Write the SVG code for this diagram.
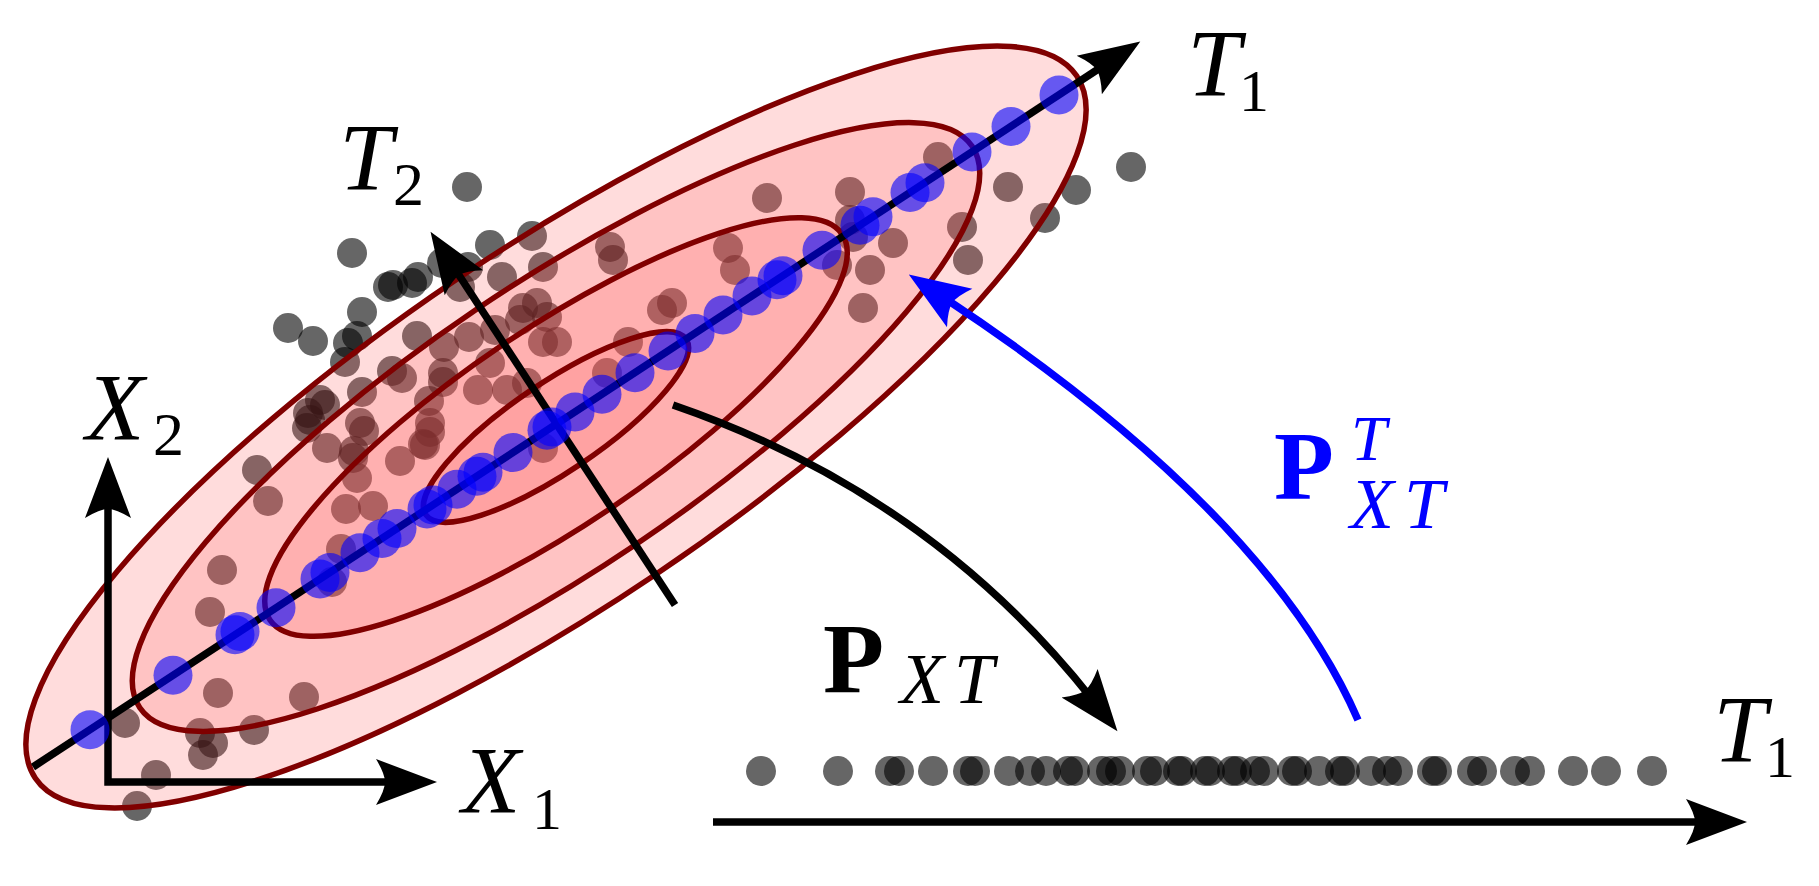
<svg xmlns="http://www.w3.org/2000/svg" width="1819" height="886" viewBox="0 0 1819 886">
<style>
.d{fill:#000;fill-opacity:0.6}
.b{fill:#0000ff;fill-opacity:0.6}
.ell{stroke:#800000;stroke-width:5.5;fill:#ff5c5c}
.ln{fill:none;stroke:#000;stroke-width:7.5}
.it{font-family:"Liberation Serif","Times New Roman",serif;font-style:italic;font-weight:normal}
.rm{font-family:"Liberation Serif","Times New Roman",serif;font-weight:normal}
.bf{font-family:"Liberation Serif","Times New Roman",serif;font-weight:bold}
</style>
<defs>
<marker id="ah" viewBox="0 -26 64 52" markerWidth="64" markerHeight="52" refX="20" refY="0" orient="auto-start-reverse" markerUnits="userSpaceOnUse">
<path d="M61,0 L0,-23 Q9,-8 9,0 Q9,8 0,23 Z" fill="#000"/>
</marker>
<marker id="ahb" viewBox="0 -26 64 52" markerWidth="64" markerHeight="52" refX="20" refY="0" orient="auto" markerUnits="userSpaceOnUse">
<path d="M61,0 L0,-23 Q9,-8 9,0 Q9,8 0,23 Z" fill="#0000ff"/>
</marker>
</defs>
<rect width="1819" height="886" fill="#fff"/>
<g id="data-points">
<circle class="d" cx="352" cy="253" r="15"/><circle class="d" cx="467" cy="187" r="15"/><circle class="d" cx="490" cy="245" r="15"/><circle class="d" cx="532" cy="236" r="15"/><circle class="d" cx="393" cy="285" r="15"/><circle class="d" cx="412" cy="283" r="15"/><circle class="d" cx="418" cy="277" r="15"/><circle class="d" cx="442" cy="263" r="15"/><circle class="d" cx="362" cy="312" r="15"/><circle class="d" cx="288" cy="328" r="15"/><circle class="d" cx="313" cy="341" r="15"/><circle class="d" cx="357" cy="336" r="15"/><circle class="d" cx="348" cy="343" r="15"/><circle class="d" cx="345" cy="362" r="15"/><circle class="d" cx="388" cy="287" r="15"/><circle class="d" cx="468" cy="267" r="15"/><circle class="d" cx="460" cy="287" r="15"/><circle class="d" cx="502" cy="277" r="15"/><circle class="d" cx="543" cy="267" r="15"/><circle class="d" cx="362" cy="392" r="15"/><circle class="d" cx="320" cy="400" r="15"/><circle class="d" cx="308" cy="413" r="15"/><circle class="d" cx="325" cy="405" r="15"/><circle class="d" cx="310" cy="420" r="15"/><circle class="d" cx="360" cy="423" r="15"/><circle class="d" cx="364" cy="431" r="15"/><circle class="d" cx="307" cy="428" r="15"/><circle class="d" cx="327" cy="448" r="15"/><circle class="d" cx="354" cy="451" r="15"/><circle class="d" cx="353" cy="458" r="15"/><circle class="d" cx="357" cy="478" r="15"/><circle class="d" cx="257" cy="470" r="15"/><circle class="d" cx="268" cy="501" r="15"/><circle class="d" cx="222" cy="570" r="15"/><circle class="d" cx="210" cy="612" r="15"/><circle class="d" cx="392" cy="371" r="15"/><circle class="d" cx="402" cy="378" r="15"/><circle class="d" cx="417" cy="336" r="15"/><circle class="d" cx="444" cy="347" r="15"/><circle class="d" cx="469" cy="337" r="15"/><circle class="d" cx="495" cy="330" r="15"/><circle class="d" cx="523" cy="308" r="15"/><circle class="d" cx="537" cy="303" r="15"/><circle class="d" cx="547" cy="317" r="15"/><circle class="d" cx="520" cy="320" r="15"/><circle class="d" cx="543" cy="342" r="15"/><circle class="d" cx="557" cy="342" r="15"/><circle class="d" cx="443" cy="373" r="15"/><circle class="d" cx="443" cy="382" r="15"/><circle class="d" cx="490" cy="363" r="15"/><circle class="d" cx="478" cy="390" r="15"/><circle class="d" cx="507" cy="390" r="15"/><circle class="d" cx="527" cy="383" r="15"/><circle class="d" cx="429" cy="401" r="15"/><circle class="d" cx="430" cy="423" r="15"/><circle class="d" cx="400" cy="461" r="15"/><circle class="d" cx="423" cy="444" r="15"/><circle class="d" cx="346" cy="509" r="15"/><circle class="d" cx="373" cy="506" r="15"/><circle class="d" cx="341" cy="549" r="15"/><circle class="d" cx="332" cy="582" r="15"/><circle class="d" cx="610" cy="247" r="15"/><circle class="d" cx="613" cy="260" r="15"/><circle class="d" cx="662" cy="310" r="15"/><circle class="d" cx="672" cy="303" r="15"/><circle class="d" cx="628" cy="342" r="15"/><circle class="d" cx="607" cy="373" r="15"/><circle class="d" cx="728" cy="248" r="15"/><circle class="d" cx="735" cy="270" r="15"/><circle class="d" cx="767" cy="198" r="15"/><circle class="d" cx="850" cy="192" r="15"/><circle class="d" cx="850" cy="220" r="15"/><circle class="d" cx="853" cy="237" r="15"/><circle class="d" cx="893" cy="243" r="15"/><circle class="d" cx="870" cy="270" r="15"/><circle class="d" cx="863" cy="308" r="15"/><circle class="d" cx="837" cy="265" r="15"/><circle class="d" cx="938" cy="157" r="15"/><circle class="d" cx="962" cy="227" r="15"/><circle class="d" cx="968" cy="260" r="15"/><circle class="d" cx="1008" cy="187" r="15"/><circle class="d" cx="1076" cy="190" r="15"/><circle class="d" cx="1045" cy="218" r="15"/><circle class="d" cx="1131" cy="167" r="15"/><circle class="d" cx="218" cy="693" r="15"/><circle class="d" cx="304" cy="697" r="15"/><circle class="d" cx="125" cy="723" r="15"/><circle class="d" cx="200" cy="733" r="15"/><circle class="d" cx="213" cy="743" r="15"/><circle class="d" cx="203" cy="755" r="15"/><circle class="d" cx="254" cy="730" r="15"/><circle class="d" cx="156" cy="775" r="15"/><circle class="d" cx="137" cy="806" r="15"/><circle class="d" cx="430" cy="432" r="15"/><circle class="d" cx="425" cy="445" r="15"/><circle class="d" cx="543" cy="448" r="15"/>
</g>
<g id="contours" transform="rotate(-34 556 427)">
<ellipse class="ell" fill-opacity="0.215" cx="556" cy="427" rx="628" ry="178"/>
<ellipse class="ell" fill-opacity="0.195" cx="556" cy="427" rx="502" ry="142"/>
<ellipse class="ell" fill-opacity="0.184" cx="556" cy="427" rx="345" ry="98"/>
<ellipse class="ell" fill-opacity="0.167" cx="556" cy="427" rx="157" ry="44.5"/>
</g>
<g id="connectors">
<path id="axis-X" class="ln" d="M108,498 L108,782 L396,782" marker-start="url(#ah)" marker-end="url(#ah)" stroke-linejoin="miter"/>
<path id="axis-T1" class="ln" d="M33,767 L1106,64" marker-end="url(#ah)"/>
<path id="axis-T2" class="ln" d="M675,605 L453,266" marker-end="url(#ah)"/>
<path id="arrow-PXT" class="ln" d="M673,405 Q929,493 1092,699" marker-end="url(#ah)"/>
<path id="arrow-PXTT" fill="none" stroke="#0000ff" stroke-width="7.5" d="M1358,720 Q1267,511 943,297" marker-end="url(#ahb)"/>
<path id="axis-T1-bottom" class="ln" d="M713,822 L1706,822" marker-end="url(#ah)"/>
</g>
<g id="projected-on-T1">
<circle class="b" cx="90" cy="729.7" r="19.5"/><circle class="b" cx="173" cy="675.3" r="19.5"/><circle class="b" cx="235" cy="634.7" r="19.5"/><circle class="b" cx="240" cy="631.4" r="19.5"/><circle class="b" cx="276" cy="607.8" r="19.5"/><circle class="b" cx="320" cy="579" r="19.5"/><circle class="b" cx="330" cy="572.5" r="19.5"/><circle class="b" cx="360" cy="552.8" r="19.5"/><circle class="b" cx="382" cy="538.4" r="19.5"/><circle class="b" cx="397" cy="528.6" r="19.5"/><circle class="b" cx="427" cy="508.9" r="19.5"/><circle class="b" cx="433" cy="505" r="19.5"/><circle class="b" cx="457" cy="489.3" r="19.5"/><circle class="b" cx="477" cy="476.2" r="19.5"/><circle class="b" cx="483" cy="472.2" r="19.5"/><circle class="b" cx="513" cy="452.6" r="19.5"/><circle class="b" cx="547" cy="430.3" r="19.5"/><circle class="b" cx="552" cy="427" r="19.5"/><circle class="b" cx="575" cy="412" r="19.5"/><circle class="b" cx="602" cy="394.3" r="19.5"/><circle class="b" cx="635" cy="372.7" r="19.5"/><circle class="b" cx="668" cy="351.1" r="19.5"/><circle class="b" cx="695" cy="333.4" r="19.5"/><circle class="b" cx="723" cy="315" r="19.5"/><circle class="b" cx="752" cy="296" r="19.5"/><circle class="b" cx="777" cy="279.7" r="19.5"/><circle class="b" cx="783" cy="275.7" r="19.5"/><circle class="b" cx="822" cy="250.2" r="19.5"/><circle class="b" cx="860" cy="225.3" r="19.5"/><circle class="b" cx="873" cy="216.8" r="19.5"/><circle class="b" cx="910" cy="192.5" r="19.5"/><circle class="b" cx="925" cy="182.7" r="19.5"/><circle class="b" cx="972" cy="151.9" r="19.5"/><circle class="b" cx="1011" cy="126.4" r="19.5"/><circle class="b" cx="1059" cy="95" r="19.5"/>
</g>
<g id="scores-row">
<circle class="d" cx="761" cy="771" r="15"/><circle class="d" cx="838" cy="771" r="15"/><circle class="d" cx="890" cy="771" r="15"/><circle class="d" cx="899" cy="771" r="15"/><circle class="d" cx="933" cy="771" r="15"/><circle class="d" cx="968" cy="771" r="15"/><circle class="d" cx="975" cy="771" r="15"/><circle class="d" cx="1009" cy="771" r="15"/><circle class="d" cx="1030" cy="771" r="15"/><circle class="d" cx="1046" cy="771" r="15"/><circle class="d" cx="1068" cy="771" r="15"/><circle class="d" cx="1075" cy="771" r="15"/><circle class="d" cx="1102" cy="771" r="15"/><circle class="d" cx="1111" cy="771" r="15"/><circle class="d" cx="1120" cy="771" r="15"/><circle class="d" cx="1147" cy="771" r="15"/><circle class="d" cx="1155" cy="771" r="15"/><circle class="d" cx="1178" cy="771" r="15"/><circle class="d" cx="1182" cy="771" r="15"/><circle class="d" cx="1205" cy="771" r="15"/><circle class="d" cx="1210" cy="771" r="15"/><circle class="d" cx="1232" cy="771" r="15"/><circle class="d" cx="1237" cy="771" r="15"/><circle class="d" cx="1255" cy="771" r="15"/><circle class="d" cx="1264" cy="771" r="15"/><circle class="d" cx="1292" cy="771" r="15"/><circle class="d" cx="1297" cy="771" r="15"/><circle class="d" cx="1319" cy="771" r="15"/><circle class="d" cx="1340" cy="771" r="15"/><circle class="d" cx="1345" cy="771" r="15"/><circle class="d" cx="1371" cy="771" r="15"/><circle class="d" cx="1387" cy="771" r="15"/><circle class="d" cx="1398" cy="771" r="15"/><circle class="d" cx="1432" cy="771" r="15"/><circle class="d" cx="1437" cy="771" r="15"/><circle class="d" cx="1472" cy="771" r="15"/><circle class="d" cx="1482" cy="771" r="15"/><circle class="d" cx="1515" cy="771" r="15"/><circle class="d" cx="1530" cy="771" r="15"/><circle class="d" cx="1573" cy="771" r="15"/><circle class="d" cx="1606" cy="771" r="15"/><circle class="d" cx="1652" cy="771" r="15"/>
</g>
<g id="label-X1"><text class="it" x="491" y="813" font-size="96" text-anchor="middle">X</text><text class="rm" x="532" y="829" font-size="60">1</text></g>
<g id="label-X2"><text class="it" x="115" y="440" font-size="96" text-anchor="middle">X</text><text class="rm" x="153" y="455" font-size="62">2</text></g>
<g id="label-T2"><text class="it" x="366" y="190" font-size="96" text-anchor="middle">T</text><text class="rm" x="393" y="205" font-size="62">2</text></g>
<g id="label-T1-top"><text class="it" x="1214" y="96" font-size="96" text-anchor="middle">T</text><text class="rm" x="1239" y="111" font-size="60">1</text></g>
<g id="label-T1-bottom"><text class="it" x="1740" y="762" font-size="96" text-anchor="middle">T</text><text class="rm" x="1765" y="777" font-size="60">1</text></g>
<g id="label-PXT"><text class="bf" x="823" y="692" font-size="100">P</text><text class="it" x="900 954" y="703" font-size="72">XT</text></g>
<g id="label-PXTT" fill="#0000ff"><text class="bf" x="1274" y="499" font-size="98">P</text><text class="it" x="1351" y="460" font-size="64">T</text><text class="it" x="1350 1404" y="528" font-size="72">XT</text></g>
</svg>
